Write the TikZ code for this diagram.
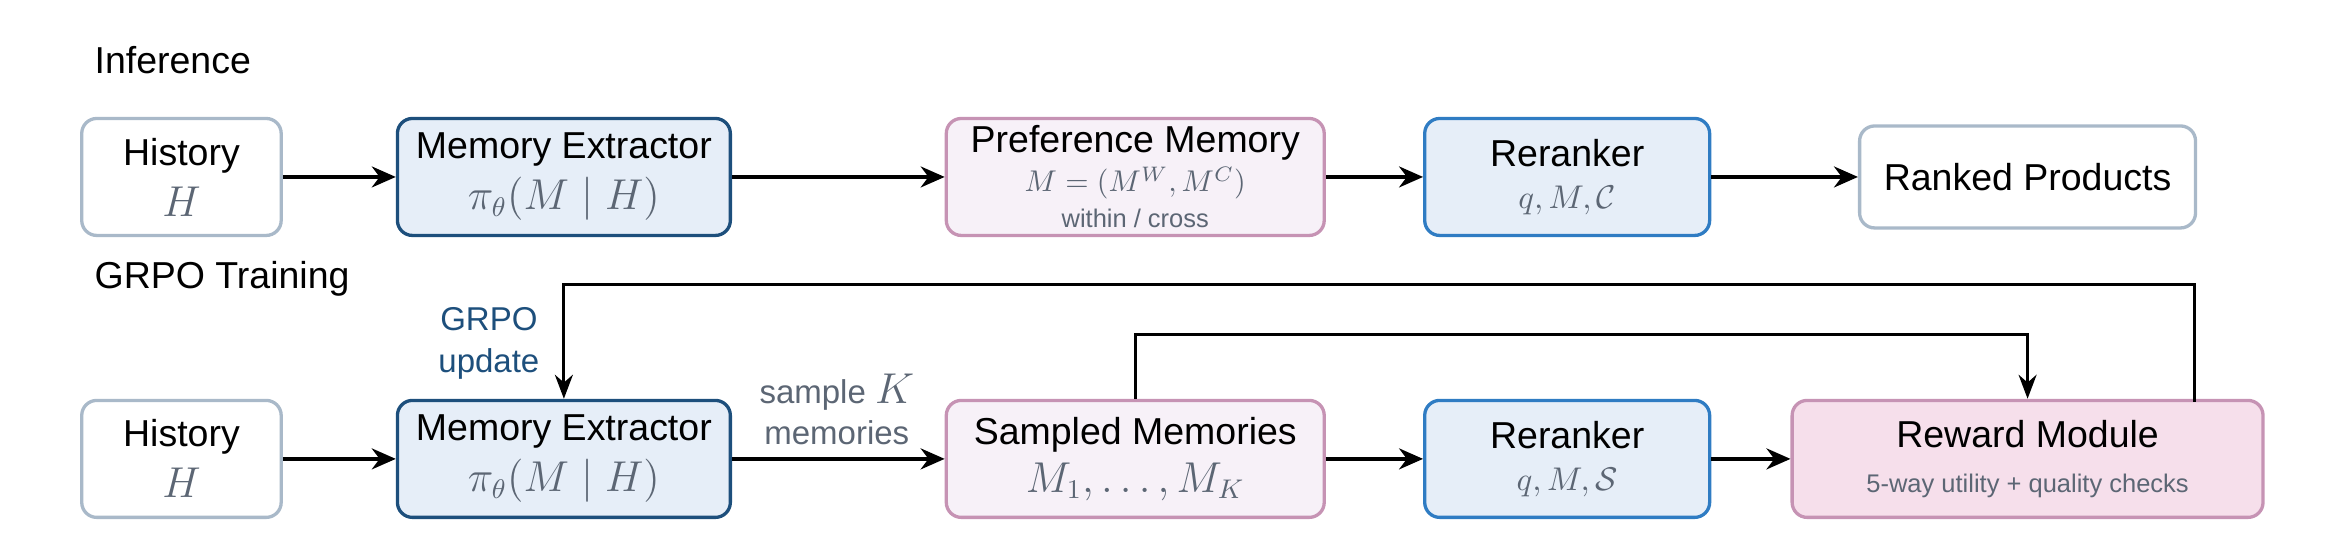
\documentclass[tikz,border=0pt]{standalone}
\usepackage{fontspec}
\setmainfont{Liberation Sans}
\usetikzlibrary{arrows.meta}
\definecolor{histline}{HTML}{A9B9C9}
\definecolor{extline}{HTML}{1D4F7C}
\definecolor{extfill}{HTML}{E6EEF8}
\definecolor{rrline}{HTML}{2F7CC3}
\definecolor{prefline}{HTML}{C693B4}
\definecolor{preffill}{HTML}{F7F1F8}
\definecolor{rewfill}{HTML}{F6DFEB}
\definecolor{mathgray}{HTML}{5C6674}
\definecolor{grpoblue}{HTML}{1D4F7C}
\tikzstyle{box}=[rounded corners=5pt, line width=1.1pt, align=center, font=\fontsize{12.5}{14}\selectfont, inner sep=0pt]
\tikzstyle{bhist}=[box, draw=histline, fill=white]
\tikzstyle{bext}=[box, draw=extline, fill=extfill]
\tikzstyle{brr}=[box, draw=rrline, fill=extfill]
\tikzstyle{bpref}=[box, draw=prefline, fill=preffill]
\tikzstyle{brew}=[box, draw=prefline, fill=rewfill]
\tikzstyle{flow}=[line width=1.1pt, -{Stealth[length=8pt,width=7pt]}]
\tikzstyle{loop}=[line width=1pt, -{Stealth[length=8pt,width=6pt]}]
\newcommand{\mth}[1]{{\color{mathgray}\fontsize{13.5}{15}\selectfont$#1$}}
\newcommand{\sml}[1]{{\color{mathgray}\fontsize{8.5}{10}\selectfont #1}}

\begin{document}
\begin{tikzpicture}[x=0.5pt, y=-0.5pt]
\useasboundingbox (0,0) rectangle (1557,367);

\node[anchor=west, font=\fontsize{12.5}{14}\selectfont] (inf) at (56,40) {Inference};
\node[anchor=west, font=\fontsize{12.5}{14}\selectfont] (trn) at (56,186) {GRPO Training};

% inference row
\node[bhist, minimum width=66.5pt, minimum height=39pt] (h1) at (121,118) {History\\[3pt]\mth{H}};
\node[bext, minimum width=111pt, minimum height=39pt] (e1) at (376,118) {Memory Extractor\\[3pt]\mth{\pi_\theta(M \mid H)}};
\node[bpref, minimum width=126pt, minimum height=39pt] (p1) at (757,118) {Preference Memory\\[-1pt]{\color{mathgray}\fontsize{10}{11}\selectfont$M=(M^W,M^C)$}\\[-2pt]\sml{within / cross}};
\node[brr, minimum width=95pt, minimum height=39pt] (r1) at (1045,118) {Reranker\\[0pt]{\color{mathgray}\fontsize{11}{12}\selectfont$q,M,\mathcal{C}$}};
\node[bhist, minimum width=112pt, minimum height=34pt] (o1) at (1352,118) {Ranked Products};

\draw[flow] (h1) -- (e1);
\draw[flow] (e1) -- (p1);
\draw[flow] (p1) -- (r1);
\draw[flow] (r1) -- (o1);

% training row
\node[bhist, minimum width=66.5pt, minimum height=39pt] (h2) at (121,306) {History\\[3pt]\mth{H}};
\node[bext, minimum width=111pt, minimum height=39pt] (e2) at (376,306) {Memory Extractor\\[3pt]\mth{\pi_\theta(M \mid H)}};
\node[bpref, minimum width=126pt, minimum height=39pt] (s2) at (757,306) {Sampled Memories\\[2pt]\mth{M_1,\ldots,M_K}};
\node[brr, minimum width=95pt, minimum height=39pt] (r2) at (1045,306) {Reranker\\[0pt]{\color{mathgray}\fontsize{11}{12}\selectfont$q,M,\mathcal{S}$}};
\node[brew, minimum width=157pt, minimum height=39pt] (w2) at (1352,306) {Reward Module\\[1pt]\sml{5-way utility + quality checks}};

\draw[flow] (h2) -- (e2);
\draw[flow] (e2) -- (s2);
\draw[flow] (s2) -- (r2);
\draw[flow] (r2) -- (w2);

\node[align=center, text=mathgray, font=\fontsize{11}{14}\selectfont] (smp) at (558,273) {sample \mth{K}\\memories};
\node[align=center, text=grpoblue, font=\fontsize{11}{14}\selectfont] (upd) at (326,229) {GRPO\\update};

\coordinate (fb) at (1463,268);
\draw[loop] (fb) -- (1463,190) -| (e2.north);
\draw[loop] (s2.north) -- (757,223) -| (w2.north);
\end{tikzpicture}
\end{document}
